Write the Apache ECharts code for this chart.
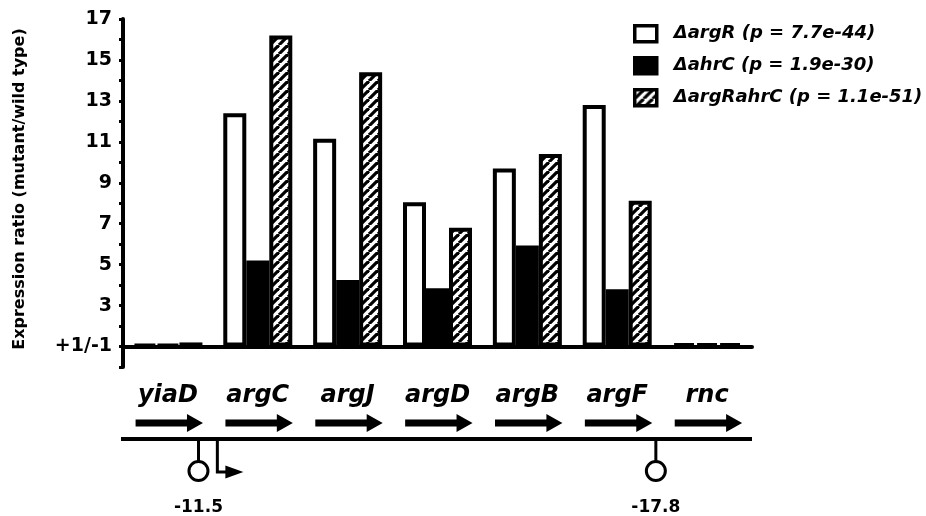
<!DOCTYPE html>
<html>
<head>
<meta charset="utf-8">
<script src="https://cdn.jsdelivr.net/npm/echarts@6/dist/echarts.min.js"></script>
<style>html,body{margin:0;padding:0;background:#fff}#c{width:926px;height:516px}</style>
</head>
<body>
<div id="c"></div>
<script>
// ---- data ----
const genes = ['yiaD', 'argC', 'argJ', 'argD', 'argB', 'argF', 'rnc'];
const seriesNames = ['\u0394argR (p = 7.7e-44)', '\u0394ahrC (p = 1.9e-30)', '\u0394argRahrC (p = 1.1e-51)'];
const argR = [1.1, 12.4, 11.15, 8.05, 9.7, 12.8, 1.15];
const ahrC = [1.1, 5.2, 4.25, 3.85, 5.93, 3.8, 1.15];
const argRahrC = [1.2, 16.2, 14.4, 6.8, 10.4, 8.12, 1.15];
const tickLabels = ['+1/-1', '3', '5', '7', '9', '11', '13', '15', '17'];
// operon features, positions in gene units along the map
const terminators = [[0.84, '-11.5'], [5.93, '-17.8']];
const promoters = [1.05];

// ---- styles ----
const FONT = 'DejaVu Sans';
const P = 9;
const pat = document.createElement('canvas');
pat.width = P; pat.height = P;
const pc = pat.getContext('2d');
pc.fillStyle = '#fff'; pc.fillRect(0, 0, P, P);
pc.strokeStyle = '#000'; pc.lineWidth = 3.2;
[-P, 0, P].forEach(o => { pc.beginPath(); pc.moveTo(o, P); pc.lineTo(o + P, 0); pc.stroke(); });
const hatch = { image: pat, repeat: 'repeat' };

const toPlot = arr => arr.map(v => +(v - 1).toFixed(3));
const barBase = { type: 'bar', barWidth: 23, barGap: '0%', xAxisIndex: 0, yAxisIndex: 0 };

const chart = echarts.init(document.getElementById('c'), null, { renderer: 'canvas' });
chart.setOption({
  animation: false,
  backgroundColor: '#fff',
  grid: [
    { left: 123, right: 174, top: 19, bottom: 149 },
    { left: 123, right: 174, top: 380, height: 136 }
  ],
  legend: {
    orient: 'vertical', left: 628, top: 19, icon: 'rect',
    itemWidth: 22, itemHeight: 16, itemGap: 12.5,
    itemStyle: { borderWidth: 3.5, borderColor: '#000' },
    textStyle: { fontFamily: FONT, fontWeight: 'bold', fontStyle: 'italic', fontSize: 18, color: '#000', padding: [0, 0, 0, 12] },
    data: seriesNames
  },
  xAxis: [
    {
      type: 'category', data: genes, gridIndex: 0,
      axisLine: { lineStyle: { color: '#000', width: 4 } },
      axisTick: { length: 5, lineStyle: { color: '#000', width: 3 } },
      axisLabel: { margin: 17, fontFamily: FONT, fontWeight: 'bold', fontStyle: 'italic', fontSize: 24, color: '#000' }
    },
    { type: 'value', gridIndex: 1, min: 0, max: 7, show: false }
  ],
  yAxis: [
    {
      type: 'value', gridIndex: 0, min: -1, max: 16, interval: 1,
      name: 'Expression ratio (mutant/wild type)', nameLocation: 'middle', nameGap: 95,
      nameTextStyle: { fontFamily: FONT, fontWeight: 'bold', fontSize: 16, color: '#000', padding: [0, 0, 0, 8] },
      splitLine: { show: false },
      axisLine: { show: true, lineStyle: { color: '#000', width: 4 } },
      axisTick: { show: true, length: 4, lineStyle: { color: '#000', width: 3 } },
      axisLabel: {
        margin: 11, fontFamily: FONT, fontWeight: 'bold', fontSize: 19, color: '#000',
        formatter: v => (v >= 0 && v % 2 === 0) ? tickLabels[v / 2] : ''
      }
    },
    { type: 'value', gridIndex: 1, min: 0, max: 136, inverse: true, show: false }
  ],
  series: [
    Object.assign({}, barBase, { name: seriesNames[0], data: toPlot(argR), itemStyle: { color: '#fff', borderColor: '#000', borderWidth: 4 } }),
    Object.assign({}, barBase, { name: seriesNames[1], data: toPlot(ahrC), itemStyle: { color: '#000', borderColor: '#000', borderWidth: 4 } }),
    Object.assign({}, barBase, { name: seriesNames[2], data: toPlot(argRahrC), itemStyle: { color: hatch, borderColor: '#000', borderWidth: 4 } }),
    {
      // chromosome line
      type: 'custom', xAxisIndex: 1, yAxisIndex: 1, silent: true,
      data: [[0, 7]],
      renderItem: (p, api) => {
        const a = api.coord([api.value(0), 59]);
        const b = api.coord([api.value(1), 59]);
        return { type: 'line', shape: { x1: a[0] - 2, y1: a[1], x2: b[0], y2: b[1] }, style: { stroke: '#000', lineWidth: 4 } };
      }
    },
    {
      // gene arrows
      type: 'custom', xAxisIndex: 1, yAxisIndex: 1, silent: true,
      data: genes.map((g, i) => [i]),
      renderItem: (p, api) => {
        const i = api.value(0);
        const x0 = api.coord([i + 0.14, 43])[0];
        const x1 = api.coord([i + 0.89, 43])[0];
        const y = api.coord([i, 43])[1];
        const hl = 16, hh = 9, sh = 3.5;
        return {
          type: 'polygon',
          shape: { points: [[x0, y - sh], [x1 - hl, y - sh], [x1 - hl, y - hh], [x1, y], [x1 - hl, y + hh], [x1 - hl, y + sh], [x0, y + sh]] },
          style: { fill: '#000' }
        };
      }
    },
    {
      // terminators
      type: 'custom', xAxisIndex: 1, yAxisIndex: 1, silent: true,
      data: terminators.map(t => [t[0], t[1]]),
      dimensions: ['pos', { name: 'lab', type: 'ordinal' }],
      renderItem: (p, api) => {
        const pos = api.value(0);
        const x = api.coord([pos, 0])[0];
        const yl = api.coord([pos, 59])[1];
        const yc = api.coord([pos, 91])[1];
        const yt = api.coord([pos, 128])[1];
        return {
          type: 'group', children: [
            { type: 'line', shape: { x1: x, y1: yl, x2: x, y2: yc - 10 }, style: { stroke: '#000', lineWidth: 3 } },
            { type: 'circle', shape: { cx: x, cy: yc, r: 9.5 }, style: { fill: '#fff', stroke: '#000', lineWidth: 3 } },
            { type: 'text', x: x, y: yt, style: { text: terminators[p.dataIndex][1], fontFamily: FONT, fontWeight: 'bold', fontSize: 17, fill: '#000', align: 'center', verticalAlign: 'middle' } }
          ]
        };
      }
    },
    {
      // promoter
      type: 'custom', xAxisIndex: 1, yAxisIndex: 1, silent: true,
      data: promoters.map(v => [v]),
      renderItem: (p, api) => {
        const pos = api.value(0);
        const x = api.coord([pos, 0])[0];
        const yl = api.coord([pos, 59])[1];
        const yb = api.coord([pos, 92])[1];
        return {
          type: 'group', children: [
            { type: 'polyline', shape: { points: [[x, yl], [x, yb], [x + 12, yb]] }, style: { stroke: '#000', lineWidth: 3, fill: null } },
            { type: 'polygon', shape: { points: [[x + 8, yb - 6.5], [x + 26, yb], [x + 8, yb + 6.5]] }, style: { fill: '#000' } }
          ]
        };
      }
    }
  ]
});
</script>
</body>
</html>
